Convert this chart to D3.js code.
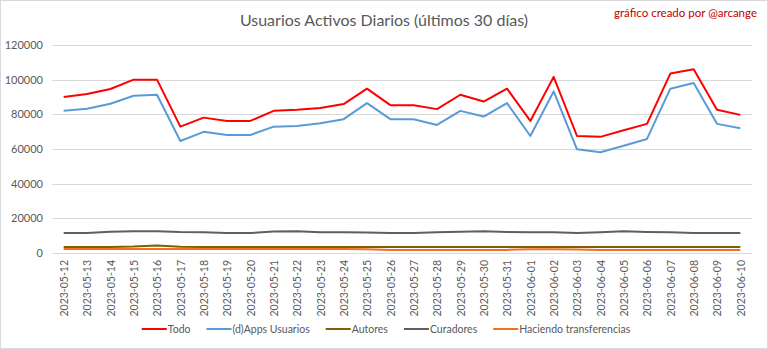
<!DOCTYPE html>
<html><head><meta charset="utf-8">
<script src="https://cdn.jsdelivr.net/npm/d3@7"></script>
<style>body{margin:0;background:#fff}svg{display:block}text{font-family:Lato,"Open Sans",sans-serif}</style>
</head><body><svg id="c" width="768" height="349"></svg>
<script>
const dates = ["2023-05-12","2023-05-13","2023-05-14","2023-05-15","2023-05-16","2023-05-17","2023-05-18","2023-05-19","2023-05-20","2023-05-21","2023-05-22","2023-05-23","2023-05-24","2023-05-25","2023-05-26","2023-05-27","2023-05-28","2023-05-29","2023-05-30","2023-05-31","2023-06-01","2023-06-02","2023-06-03","2023-06-04","2023-06-05","2023-06-06","2023-06-07","2023-06-08","2023-06-09","2023-06-10"];
const todo = [90000,91700,94600,100000,100000,72900,78100,76200,76200,82000,82600,83600,85900,94800,85300,85300,83000,91300,87400,94800,76200,101600,67500,67000,70800,74500,103500,106000,82600,79700];
const apps = [82000,83200,86100,90700,91300,64600,69900,68100,68100,72900,73300,74900,77200,86500,77200,77200,73900,82000,78700,86500,67500,93200,59800,58100,61900,65800,94800,98100,74500,72000];
const autores = [3500,3500,3500,3700,4300,3600,3500,3500,3500,3500,3500,3500,3500,3500,3500,3500,3500,3500,3500,3500,3500,3500,3500,3500,3500,3500,3500,3500,3500,3500];
const curadores = [11500,11500,12300,12600,12600,12100,12000,11500,11500,12400,12500,12000,11900,11800,11500,11500,11900,12200,12500,12100,12000,12000,11500,12000,12500,12100,11900,11600,11500,11500];
const transferencias = [2300,2300,2300,2300,2300,2300,2300,2300,2300,2300,2300,2300,2300,2200,1800,1800,1800,1800,1800,1800,2100,2100,2000,1800,1800,1800,1800,1800,1800,1800];
const yTicks = [0,20000,40000,60000,80000,100000,120000];
const seriesNames = ["Todo","(d)Apps Usuarios","Autores","Curadores","Haciendo transferencias"];
const seriesColors = ["#FF0000","#5B9BD5","#7F5F00","#5F5F5F","#F2701E"];
const seriesData = [todo, apps, autores, curadores, transferencias];

const svg = d3.select("#c");
svg.append("rect").attr("x",0.5).attr("y",0.5).attr("width",767).attr("height",348).attr("fill","#fff").attr("stroke","#d9d9d9");

const x = d3.scalePoint().domain(dates).range([52,752]).padding(0.5);
const y = d3.scaleLinear().domain([0,120000]).range([253,45]);

svg.append("g").selectAll("line").data(yTicks).join("line")
  .attr("x1",52).attr("x2",752).attr("y1",d=>Math.round(y(d))+0.5).attr("y2",d=>Math.round(y(d))+0.5)
  .attr("stroke","#d9d9d9").attr("stroke-width",1);

const yAxis = d3.axisLeft(y).tickValues(yTicks).tickSize(0).tickPadding(0).tickFormat(d3.format("d"));
const ga = svg.append("g").attr("transform","translate(43,0)").call(yAxis);
ga.select(".domain").remove();
ga.selectAll("text").attr("fill","#595959").style("font-size","11px");

const xAxis = d3.axisBottom(x).tickSize(0).tickPadding(0);
const gx = svg.append("g").attr("transform","translate(0,253)").call(xAxis);
gx.select(".domain").remove();
gx.selectAll("text").attr("fill","#595959").style("font-size","10.5px")
  .attr("transform","rotate(-90)").attr("text-anchor","end").attr("dy","0.35em").attr("x",-7).attr("y",0);

const line = d3.line().x((d,i)=>x(dates[i])).y(d=>y(d));
[4,3,2,1,0].forEach(k=>{
  svg.append("path").datum(seriesData[k]).attr("d",line).attr("fill","none")
    .attr("stroke",seriesColors[k]).attr("stroke-width",2).attr("stroke-linejoin","round");
});

svg.append("text").attr("x",384).attr("y",26).attr("text-anchor","middle").attr("fill","#595959")
  .style("font-size","16px").text("Usuarios Activos Diarios (últimos 30 días)");
svg.append("text").attr("x",757).attr("y",17).attr("text-anchor","end").attr("fill","#C00000")
  .style("font-size","11.5px").text("gráfico creado por @arcange");

const lg = svg.append("g");
let cx = 0;
seriesNames.forEach((n,i)=>{
  const g = lg.append("g").attr("transform",`translate(${cx},0)`);
  g.append("line").attr("x1",0).attr("x2",25).attr("y1",0).attr("y2",0).attr("stroke",seriesColors[i]).attr("stroke-width",2);
  const t = g.append("text").attr("x",26).attr("y",4).attr("fill","#595959").style("font-size","10.5px").text(n);
  const w = t.node().getComputedTextLength();
  cx += 26 + w + 16;
});
const total = cx - 16;
lg.attr("transform",`translate(${386 - total/2},329)`);
</script></body></html>
